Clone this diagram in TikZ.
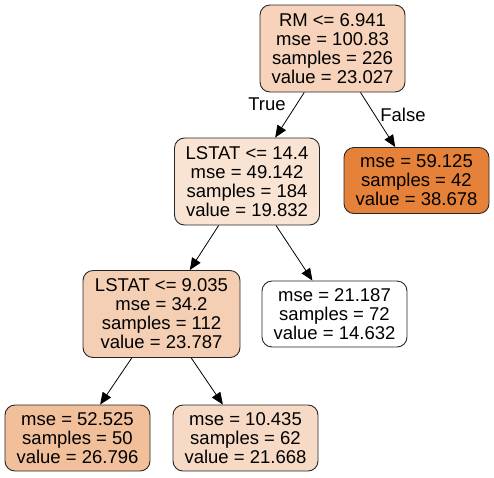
\documentclass[tikz,border=0pt]{standalone}
\usepackage{fontspec}
\setmainfont{Liberation Sans}
\usepackage{xcolor}
\usetikzlibrary{positioning,arrows.meta,calc}

\definecolor{rootfill}{HTML}{F6D3BA}
\definecolor{lstatAfill}{HTML}{F9E4D4}
\definecolor{hifill}{HTML}{E58139}
\definecolor{lstatBfill}{HTML}{F5CFB4}
\definecolor{leafAfill}{HTML}{F2BF9B}
\definecolor{leafBfill}{HTML}{F7DAC5}

\begin{document}
\begin{tikzpicture}[x=1pt, y=-1pt, font=\fontsize{18.5}{19}\selectfont,
  split/.style={draw=black!85, line width=0.9pt, rounded corners=10pt, align=center, inner sep=1pt, minimum width=145pt, minimum height=87pt},
  leaf/.style={draw=black!85, line width=0.9pt, rounded corners=10pt, align=center, inner sep=1pt, minimum width=145pt, minimum height=66pt},
  arr/.style={-{Triangle[length=12pt, width=10pt]}, line width=0.8pt}]
\useasboundingbox (0,0) rectangle (494,477);
\node[split, fill=rootfill]   (root) at (332.5,48.5) {RM <= 6.941\\ mse = 100.83\\ samples = 226\\ value = 23.027};
\node[split, fill=lstatAfill] (lsa)  at (247,181.5)  {LSTAT <= 14.4\\ mse = 49.142\\ samples = 184\\ value = 19.832};
\node[leaf, fill=hifill]      (hi)   at (416.5,180.5) {mse = 59.125\\ samples = 42\\ value = 38.678};
\node[split, fill=lstatBfill, minimum width=157pt] (lsb) at (161.5,314) {LSTAT <= 9.035\\ mse = 34.2\\ samples = 112\\ value = 23.787};
\node[leaf, fill=white]       (lo)   at (334.5,314)  {mse = 21.187\\ samples = 72\\ value = 14.632};
\node[leaf, fill=leafAfill]   (la)   at (77.5,438)   {mse = 52.525\\ samples = 50\\ value = 26.796};
\node[leaf, fill=leafBfill]   (lb)   at (245.5,438)  {mse = 10.435\\ samples = 62\\ value = 21.668};
\draw[arr] (root) -- (lsa);
\draw[arr] (root) -- (hi);
\draw[arr] (lsa) -- (lsb);
\draw[arr] (lsa) -- (lo);
\draw[arr] (lsb) -- (la);
\draw[arr] (lsb) -- (lb);
\node (t) at (267,104) {True};
\node (f) at (403,115) {False};
\end{tikzpicture}
\end{document}
